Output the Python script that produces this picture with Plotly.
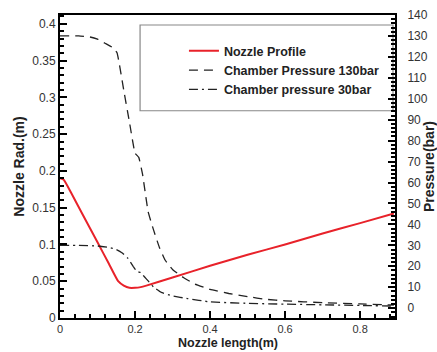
import plotly.graph_objects as go

# Nozzle profile (left axis, m)
x_profile = [0, 0.01, 0.03, 0.06, 0.1, 0.13, 0.155, 0.17, 0.185, 0.2, 0.215, 0.23, 0.3, 0.4, 0.5, 0.6, 0.7, 0.8, 0.89]
r_profile = [0.19, 0.188, 0.170, 0.141, 0.103, 0.074, 0.050, 0.044, 0.041, 0.041, 0.042, 0.044, 0.055, 0.071, 0.086, 0.100, 0.115, 0.129, 0.142]

# Chamber pressure 130 bar (right axis, bar)
x_p130 = [0, 0.05, 0.08, 0.1, 0.12, 0.14, 0.152, 0.17, 0.185, 0.2, 0.21, 0.22, 0.235, 0.25, 0.265, 0.28, 0.3, 0.33, 0.36, 0.4, 0.45, 0.5, 0.55, 0.6, 0.7, 0.8, 0.89]
p130 = [130, 130, 129.5, 128.5, 126.5, 124.5, 122, 104, 89, 74, 72, 64, 46, 37, 29, 23, 18.5, 14.5, 11.5, 9, 7, 5.5, 4.2, 3.5, 2.6, 2, 1.5]

# Chamber pressure 30 bar (right axis, bar)
x_p30 = [0, 0.05, 0.1, 0.13, 0.15, 0.165, 0.18, 0.195, 0.205, 0.215, 0.225, 0.235, 0.25, 0.27, 0.3, 0.34, 0.4, 0.5, 0.6, 0.7, 0.8, 0.89]
p30 = [30, 30, 29.7, 29, 28, 26.5, 24, 20, 17.5, 17, 15, 13, 10, 7.5, 5.8, 4.6, 3, 2.3, 1.9, 1.6, 1.3, 1]

left_ticks = [0, 0.05, 0.1, 0.15, 0.2, 0.25, 0.3, 0.35, 0.4]
left_labels = ["0", "0.05", "0.1", "0.15", "0.2", "0.25", "0.3", "0.35", "0.4"]
right_ticks = list(range(0, 141, 10))
x_ticks = [0, 0.2, 0.4, 0.6, 0.8]
x_labels = ["0", "0.2", "0.4", "0.6", "0.8"]

FONT = "Liberation Sans, Arial, sans-serif"

fig = go.Figure()
fig.add_trace(go.Scatter(x=x_profile, y=r_profile, mode="lines", name="Nozzle Profile",
                         line=dict(color="#e8222a", width=2, shape="spline", smoothing=0.4)))
fig.add_trace(go.Scatter(x=x_p130, y=p130, mode="lines", name="Chamber Pressure 130bar", yaxis="y2",
                         line=dict(color="#222222", width=1.3, dash="9px,6px", shape="spline", smoothing=0.3)))
fig.add_trace(go.Scatter(x=x_p30, y=p30, mode="lines", name="Chamber pressure 30bar", yaxis="y2",
                         line=dict(color="#222222", width=1.3, dash="9px,4px,2px,4px", shape="spline", smoothing=0.3)))

axcommon = dict(showgrid=False, zeroline=False, showline=True, linecolor="black", linewidth=2,
                ticks="inside", ticklen=7, tickwidth=1.5, tickcolor="black", automargin=False,
                tickfont=dict(family=FONT, size=12, color="#333333"))

fig.update_layout(
    width=437, height=352,
    margin=dict(l=60, r=42, t=15, b=34),
    paper_bgcolor="white", plot_bgcolor="white",
    font=dict(family=FONT),
    xaxis=dict(range=[0, 0.893], tickvals=x_ticks, ticktext=x_labels, mirror=True,
               minor=dict(dtick=0.04, ticks="inside", ticklen=4, tickcolor="black"),
               **{**axcommon, "tickfont": dict(family=FONT, size=11, color="#333333")}),
    yaxis=dict(range=[0, 0.412], tickvals=left_ticks, ticktext=left_labels,
               minor=dict(dtick=0.01, ticks="inside", ticklen=4, tickcolor="black"),
               title=dict(text="<b>Nozzle Rad.(m)</b>", font=dict(family=FONT, size=14, color="#222"), standoff=4),
               **axcommon),
    yaxis2=dict(range=[-4.7, 140], overlaying="y", side="right", tickvals=right_ticks,
                minor=dict(dtick=2, ticks="inside", ticklen=4, tickcolor="black"),
                title=dict(text="<b>Pressure(bar)</b>", font=dict(family=FONT, size=14, color="#222"), standoff=8),
                ticklabelstandoff=8,
                **axcommon),
    legend=dict(x=0.37, y=0.93, xanchor="left", yanchor="top", bgcolor="rgba(0,0,0,0)",
                borderwidth=0, font=dict(family=FONT, size=12.5, color="#222"),
                tracegroupgap=0, itemwidth=30),
    showlegend=True,
    shapes=[dict(type="rect", xref="paper", yref="paper", x0=0.239, x1=0.994, y0=0.684, y1=0.967,
                 line=dict(color="#888888", width=1.2), fillcolor="rgba(255,255,255,0)", layer="below")],
    annotations=[dict(text="<b>Nozzle length(m)</b>", xref="paper", yref="paper", x=0.5, y=0,
                      yshift=-25, yanchor="middle", showarrow=False,
                      font=dict(family=FONT, size=12.5, color="#222"))],
)
for tr in fig.data:
    tr.name = "<b>" + tr.name + "</b>"

fig.write_html("out.html")
